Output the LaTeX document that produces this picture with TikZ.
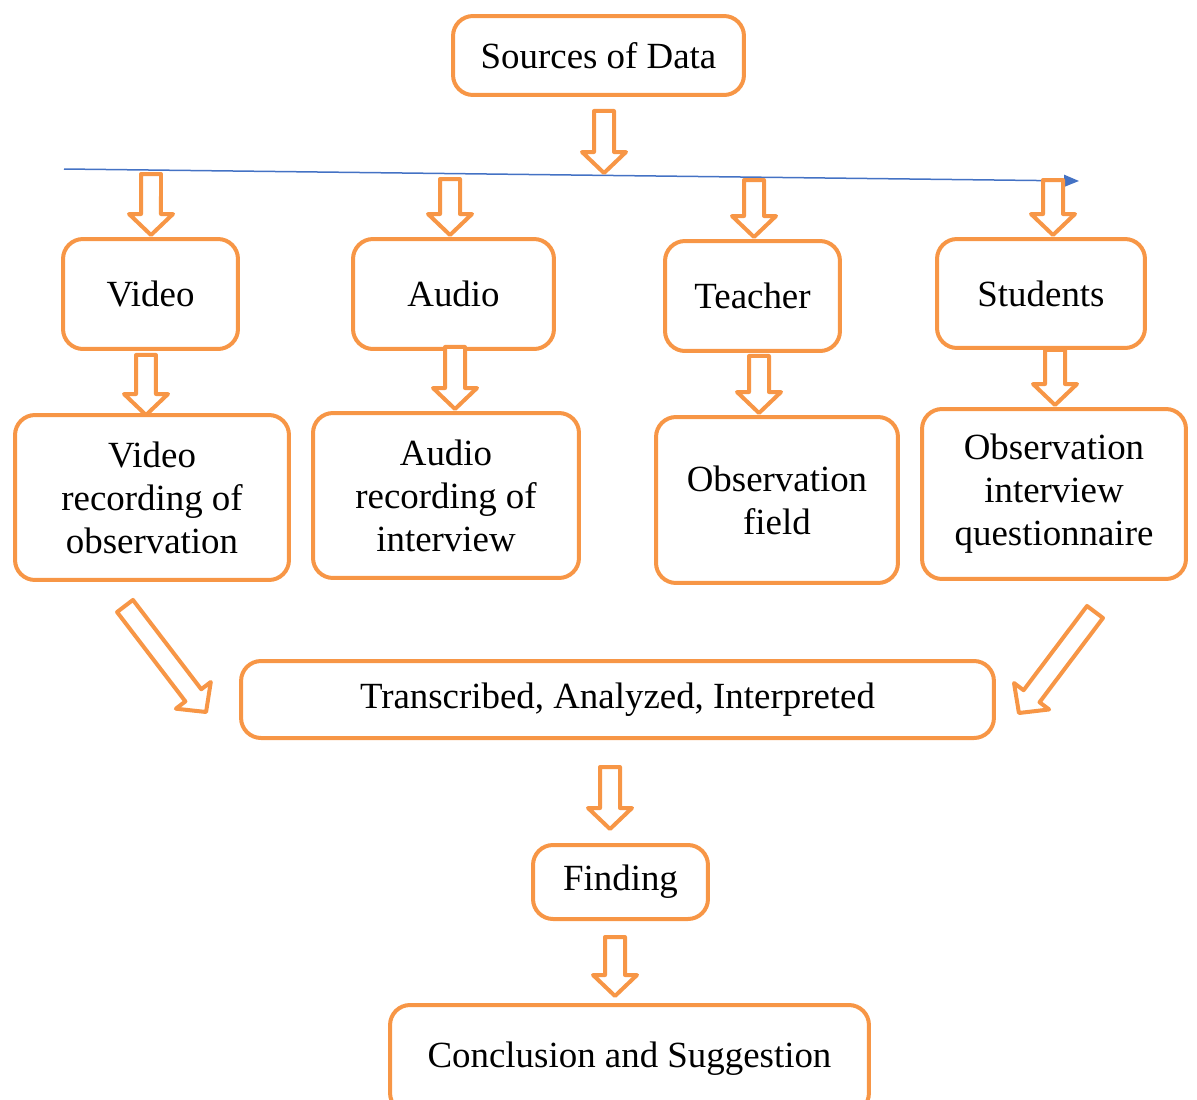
\documentclass[tikz,border=0pt]{standalone}
\usepackage{fontspec}
\setmainfont{Liberation Serif}
\usetikzlibrary{calc,arrows.meta}
\definecolor{boxorange}{HTML}{F79646}
\definecolor{lineblue}{HTML}{4472C4}
\begin{document}
\begin{tikzpicture}[x=0.02cm, y=-0.02cm]
	\tikzset{box/.style={draw=boxorange, line width=0.08cm, rounded corners=0.4cm, align=center, inner sep=0, font=\fontsize{21}{24.5}\selectfont}}
	\tikzset{blockarr/.style={draw=boxorange, fill=white, line width=0.08cm, line join=round,
		to path={($(\tikztotarget)!0.42cm!(\tikztostart)$) coordinate (ah)
			($(\tikztostart)!0.2cm!90:(\tikztotarget)$) -- ($(ah)!0.2cm!90:(\tikztotarget)$)
			-- ($(ah)!0.44cm!90:(\tikztotarget)$) -- (\tikztotarget)
			-- ($(ah)!0.44cm!-90:(\tikztotarget)$) -- ($(ah)!0.2cm!-90:(\tikztotarget)$)
			-- ($(\tikztostart)!0.2cm!-90:(\tikztotarget)$) -- cycle}}}
	\tikzset{flowline/.style={draw=lineblue, line width=0.03cm, -{Triangle[length=0.3cm,width=0.24cm]}}}
	\useasboundingbox (0,0) rectangle (1197,1099);
	% boxes
	\node[box, minimum width=5.82cm, minimum height=1.58cm] at (598.5, 55.5) (src) {Sources of Data};
	\node[box, minimum width=3.5cm, minimum height=2.2cm] at (150.5, 294) (vid) {Video};
	\node[box, minimum width=4.02cm, minimum height=2.2cm] at (453.5, 294) (aud) {Audio};
	\node[box, minimum width=3.5cm, minimum height=2.2cm] at (752.5, 296) (tea) {Teacher};
	\node[box, minimum width=4.16cm, minimum height=2.18cm] at (1041, 293.5) (stu) {Students};
	\node[box, minimum width=5.48cm, minimum height=3.3cm] at (152, 497.5) (vidrec) {Video\\recording of\\observation};
	\node[box, minimum width=5.32cm, minimum height=3.3cm] at (446, 495.5) (audrec) {Audio\\recording of\\interview};
	\node[box, minimum width=4.84cm, minimum height=3.32cm] at (777, 500) (obsf) {Observation\\field};
	\node[box, minimum width=5.28cm, minimum height=3.4cm] at (1054, 494) (obsq) {Observation\\interview\\questionnaire};
	\node[box, minimum width=15.06cm, minimum height=1.54cm] at (617.5, 699.5) (trans) {Transcribed, Analyzed, Interpreted};
	\node[box, minimum width=3.5cm, minimum height=1.48cm] at (620.5, 882) (find) {Finding};
	\node[box, minimum width=9.58cm, minimum height=2.16cm] at (629.5, 1059) (concl) {Conclusion and Suggestion};
	% blue line
	\coordinate (lineL) at (64, 169);
	\coordinate (lineR) at (1079, 181);
	\draw[flowline] (lineL) -- (lineR);
	% free arrow ends on the line
	\coordinate (split) at (604, 173);
	\coordinate (vidin) at (151, 174);
	\coordinate (audin) at (450, 179);
	\coordinate (teain) at (754, 180);
	\coordinate (stuin) at (1053, 180);
	% block arrows
	\draw[blockarr] ($(src.south)+(5.5,14)$) to (split);
	\draw[blockarr] (vidin) to ($(vid.north)+(0.5,-2)$);
	\draw[blockarr] (audin) to ($(aud.north)+(-3.5,-2)$);
	\draw[blockarr] (teain) to ($(tea.north)+(1.5,-2)$);
	\draw[blockarr] (stuin) to ($(stu.north)+(12,-2)$);
	\draw[blockarr] ($(vid.south)+(-4.5,4)$) to ($(vidrec.north)+(-6,2)$);
	\draw[blockarr] ($(aud.south)+(1.5,-4)$) to ($(audrec.north)+(9,-2)$);
	\draw[blockarr] ($(tea.south)+(6.5,3)$) to ($(obsf.north)+(-18,-2)$);
	\draw[blockarr] ($(stu.south)+(14,0)$) to ($(obsq.north)+(1,-2)$);
	\draw[blockarr] ($(vidrec.south)+(-27,24)$) to ($(trans.west)+(-33,12.5)$);
	\draw[blockarr] ($(obsq.south)+(41,31)$) to ($(trans.east)+(23,13.5)$);
	\draw[blockarr] ($(trans.south)+(-7.5,27)$) to ($(find.north)+(-10.5,-14)$);
	\draw[blockarr] ($(find.south)+(-5.5,16)$) to ($(concl.north)+(-14.5,-7)$);
\end{tikzpicture}
\end{document}
